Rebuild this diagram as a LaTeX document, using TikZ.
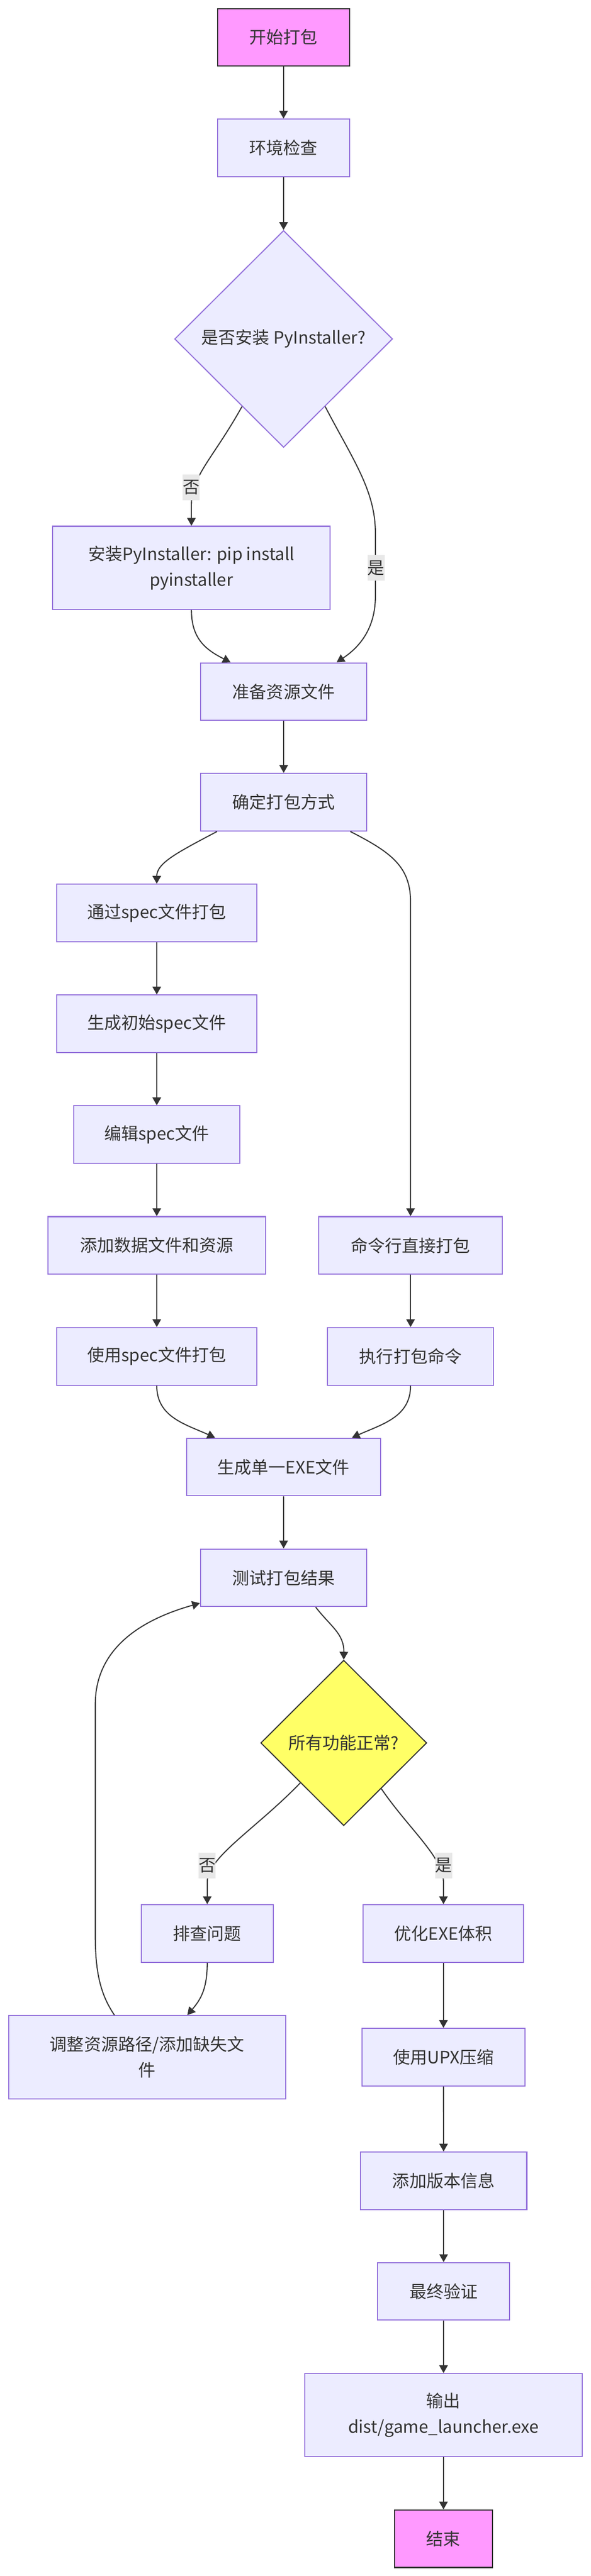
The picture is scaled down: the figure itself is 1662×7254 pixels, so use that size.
\documentclass[tikz,border=0pt]{standalone}
\usepackage{fontspec}
\setmainfont{Noto Sans CJK SC}
\usetikzlibrary{arrows.meta,shapes.geometric,calc}
\definecolor{mfill}{HTML}{ECECFF}
\definecolor{mstroke}{HTML}{9370DB}
\definecolor{mtext}{HTML}{333333}
\definecolor{mline}{HTML}{333333}
\definecolor{mpink}{HTML}{FF99FF}
\definecolor{myellow}{HTML}{FFFF66}
\definecolor{mlabel}{HTML}{E8E8E8}
\begin{document}
\begin{tikzpicture}[x=1pt,y=-1pt,
 base/.style={font=\fontsize{48pt}{72pt}\selectfont, text=mtext, inner sep=0pt, align=center, line width=3pt},
 box/.style={base, draw=mstroke, fill=mfill, minimum height=162pt},
 tallbox/.style={box, minimum height=234pt},
 term/.style={base, draw=mline, fill=mpink, minimum height=162pt},
 decbox/.style={base, diamond, draw=mstroke, fill=mfill},
 decyellow/.style={base, diamond, draw=mline, fill=myellow},
 lbl/.style={base, fill=mlabel, minimum height=72pt, minimum width=47pt},
 arr/.style={draw=mline, line width=3pt, -{Triangle[length=22pt,width=24pt]}}
]
\fill[white] (0,0) rectangle (1662,7254);
\useasboundingbox (0,0) rectangle (1662,7254);

% nodes
\node[term, minimum width=372pt] (start) at (797.6,105) {开始打包};
\node[box, minimum width=372pt] (env) at (797.6,416.5) {环境检查};
\node[decbox, minimum width=613pt, minimum height=611pt] (dec1) at (797.8,954.5) {是否安装 PyInstaller?};
\node[tallbox, minimum width=780pt] (install) at (538.5,1599) {安装PyInstaller: pip install\\pyinstaller};
\node[box, minimum width=468pt] (prep) at (798,1947.5) {准备资源文件};
\node[box, minimum width=468pt] (method) at (798,2259) {确定打包方式};
\node[box, minimum width=564pt] (viaspec) at (441,2571) {通过spec文件打包};
\node[box, minimum width=564pt] (gen) at (441,2883) {生成初始spec文件};
\node[box, minimum width=468pt] (edit) at (441,3195) {编辑spec文件};
\node[box, minimum width=613pt] (adddata) at (441,3507) {添加数据文件和资源};
\node[box, minimum width=516pt] (cmd) at (1155,3507) {命令行直接打包};
\node[box, minimum width=564pt] (usespec) at (441,3819.5) {使用spec文件打包};
\node[box, minimum width=468pt] (exec) at (1155,3819.5) {执行打包命令};
\node[box, minimum width=546pt] (single) at (797.6,4131) {生成单一EXE文件};
\node[box, minimum width=468pt] (test) at (798,4443) {测试打包结果};
\node[decyellow, minimum width=467pt, minimum height=466pt] (dec2) at (967,4908) {所有功能正常?};
\node[box, minimum width=371pt] (debug) at (583,5444.5) {排查问题};
\node[box, minimum width=451pt] (opt) at (1247.5,5444.5) {优化EXE体积};
\node[tallbox, minimum width=779pt] (adjust) at (414,5793) {调整资源路径/添加缺失文\\件};
\node[box, minimum width=458pt] (upx) at (1247.5,5793) {使用UPX压缩};
\node[box, minimum width=468pt] (ver) at (1248,6141) {添加版本信息};
\node[box, minimum width=372pt] (final) at (1248,6452.5) {最终验证};
\node[tallbox, minimum width=780pt] (output) at (1247.6,6801) {输出\\dist/game\_launcher.exe};
\node[term, minimum width=276pt] (end) at (1247.6,7149) {结束};

% connectors
\draw[arr] (start) -- (env);
\draw[arr] (env) -- (dec1);
\draw[arr] ($(dec1.west)!0.62!(dec1.south)$) .. controls (600,1290) and (538.5,1340) .. (538.5,1420) -- (install.north);
\draw[arr] ($(dec1.east)!0.62!(dec1.south)$) .. controls (990,1290) and (1056,1380) .. (1056,1500) -- (1056,1680) .. controls (1056,1780) and (1000,1830) .. ([xshift=-86.5pt]prep.north east);
\draw[arr] (install.south) .. controls (538.5,1800) and (580,1830) .. ([xshift=86pt]prep.north west);
\draw[arr] (prep) -- (method);
\draw[arr] ([xshift=48pt]method.south west) .. controls (500,2400) and (441,2430) .. (viaspec.north);
\draw[arr] ([xshift=-48pt]method.south east) .. controls (1100,2400) and (1155,2440) .. (1155,2540) -- (cmd.north);
\draw[arr] (viaspec) -- (gen);
\draw[arr] (gen) -- (edit);
\draw[arr] (edit) -- (adddata);
\draw[arr] (adddata) -- (usespec);
\draw[arr] (cmd) -- (exec);
\draw[arr] (usespec.south) .. controls (441,3990) and (520,4010) .. ([xshift=82pt]single.north west);
\draw[arr] (exec.south) .. controls (1155,3990) and (1076,4010) .. ([xshift=-82pt]single.north east);
\draw[arr] (single) -- (test);
\draw[arr] ([xshift=90pt]test.south) .. controls (930,4580) and (968,4600) .. (dec2.north);
\draw[arr] ($(dec2.west)!0.48!(dec2.south)$) .. controls (720,5150) and (583,5230) .. (583,5300) -- (debug.north);
\draw[arr] ($(dec2.east)!0.55!(dec2.south)$) .. controls (1150,5150) and (1247.5,5230) .. (1247.5,5300) -- (opt.north);
\draw[arr] (debug.south) .. controls (583,5600) and (565,5630) .. ([xshift=113pt]adjust.north);
\draw[arr] ([xshift=299pt]adjust.north west) .. controls (285,5620) and (268,5560) .. (268,5450) -- (268,4800) .. controls (268,4640) and (400,4560) .. ([yshift=11pt]test.south west);
\draw[arr] (opt) -- (upx);
\draw[arr] (upx) -- (ver);
\draw[arr] (ver) -- (final);
\draw[arr] (final) -- (output);
\draw[arr] (output) -- (end);

% edge labels
\node[lbl] (l1) at (538,1372) {否};
\node[lbl] (l2) at (1058,1599) {是};
\node[lbl] (l3) at (583,5253) {否};
\node[lbl] (l4) at (1248,5253) {是};
\end{tikzpicture}
\end{document}
